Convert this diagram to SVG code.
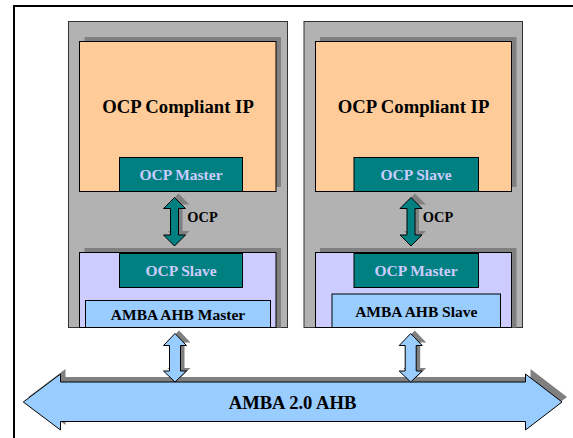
<svg xmlns="http://www.w3.org/2000/svg" width="573" height="438" viewBox="0 0 573 438">
<style>
.t{font-weight:bold;text-anchor:middle}
.ip{font-size:18.7px;fill:#000}
.tl{font-size:15.5px;fill:#CCCCFF}
.bl{font-size:15.5px;fill:#000}
.gray{fill:#B2B2B2;stroke:#333;stroke-width:1}
.sh{fill:#808080}
.org{fill:#FFCC99;stroke:#000;stroke-width:1}
.teal{fill:#008080;stroke:#000;stroke-width:1}
.lav{fill:#CCCCFF;stroke:#000;stroke-width:1}
.lb{fill:#99CCFF;stroke:#000;stroke-width:1}
.ocpA{fill:#008080;stroke:#000;stroke-width:1}
.busA{fill:#99CCFF;stroke:#000;stroke-width:1}
</style>
<defs>
<path id="ocpArrow" d="M0,0 L11,11 L4,11 L4,37.5 L11,37.5 L0,48.5 L-11,37.5 L-4,37.5 L-4,11 L-11,11 Z"/>
<path id="ahbArrow" d="M0,0 L11.5,12 L5.5,12 L5.5,37.5 L11.5,37.5 L0,48.5 L-11.5,37.5 L-5.5,37.5 L-5.5,12 L-11.5,12 Z"/>
</defs>
<rect x="0" y="0" width="573" height="438" fill="#fff"/>
<g font-family="Liberation Serif, Times New Roman, serif">
<g id="frame">
<line x1="13" y1="6" x2="573" y2="6" stroke="#000" stroke-width="2"/>
<line x1="14" y1="5" x2="14" y2="438" stroke="#000" stroke-width="2"/>
</g>
<g id="left-module">
<rect class="gray" x="68.5" y="21.5" width="219" height="306"/>
</g>
<g id="right-module">
<rect class="gray" x="304" y="21.5" width="218.5" height="306"/>
</g>
<g id="left-ip">
<rect class="sh" x="84.5" y="37" width="196.5" height="150"/>
<rect class="org" x="79.5" y="41.5" width="196.5" height="150"/>
<text class="t ip" x="178" y="112.5">OCP Compliant IP</text>
</g>
<g id="left-ocp-master">
<rect class="teal" x="119.5" y="157.5" width="123" height="34"/>
<text class="t tl" x="181" y="180">OCP Master</text>
</g>
<g id="right-ip">
<rect class="sh" x="320" y="37" width="196.5" height="150"/>
<rect class="org" x="315.5" y="41.5" width="196" height="150"/>
<text class="t ip" x="413.5" y="112.5">OCP Compliant IP</text>
</g>
<g id="right-ocp-slave">
<rect class="teal" x="354" y="157.5" width="124.5" height="34"/>
<text class="t tl" x="416" y="180">OCP Slave</text>
</g>
<g id="left-bridge">
<rect class="sh" x="84.5" y="248" width="196.5" height="79.5"/>
<rect class="lav" x="79.5" y="252.5" width="196.5" height="75"/>
</g>
<g id="left-ocp-slave">
<rect class="teal" x="119.5" y="253.5" width="123" height="34"/>
<text class="t tl" x="181" y="276">OCP Slave</text>
</g>
<g id="amba-ahb-master">
<rect class="lb" x="85.5" y="300.5" width="185" height="27"/>
<text class="t bl" x="178" y="320">AMBA AHB Master</text>
</g>
<g id="right-bridge">
<rect class="sh" x="320" y="248" width="196.5" height="79.5"/>
<rect class="lav" x="315.5" y="252.5" width="196" height="75"/>
</g>
<g id="right-ocp-master">
<rect class="teal" x="354" y="253.5" width="124.5" height="34"/>
<text class="t tl" x="416" y="276">OCP Master</text>
</g>
<g id="amba-ahb-slave">
<rect class="lb" x="332" y="294" width="168.5" height="33.5"/>
<text class="t bl" x="416.3" y="316.7">AMBA AHB Slave</text>
</g>
<g id="amba-bus">
<path class="sh" d="M28.3,397 L65.5,369 L65.5,377 L530.5,377 L530.5,369 L567,397 L530.5,425 L530.5,416.5 L65.5,416.5 L65.5,425 Z"/>
<path class="busA" d="M23.3,402 L60.5,374 L60.5,382 L525.5,382 L525.5,374 L562,402 L525.5,430 L525.5,421.5 L60.5,421.5 L60.5,430 Z"/>
<text class="t" font-size="18.6" x="292.5" y="409">AMBA 2.0 AHB</text>
</g>
<g id="connectors">
<use href="#ocpArrow" class="sh" x="178.5" y="193.5"/>
<use href="#ocpArrow" class="ocpA" x="174.5" y="197.5"/>
<text class="t" font-size="14.4" x="202.5" y="222.3">OCP</text>
<use href="#ocpArrow" class="sh" x="415" y="193.5"/>
<use href="#ocpArrow" class="ocpA" x="411" y="197.5"/>
<text class="t" font-size="14.4" x="438" y="222.3">OCP</text>
<use href="#ahbArrow" class="sh" x="179" y="330.5"/>
<use href="#ahbArrow" class="busA" x="175" y="333.5"/>
<use href="#ahbArrow" class="sh" x="414.7" y="330.5"/>
<use href="#ahbArrow" class="busA" x="410.7" y="333.5"/>
</g>
</g>
</svg>
